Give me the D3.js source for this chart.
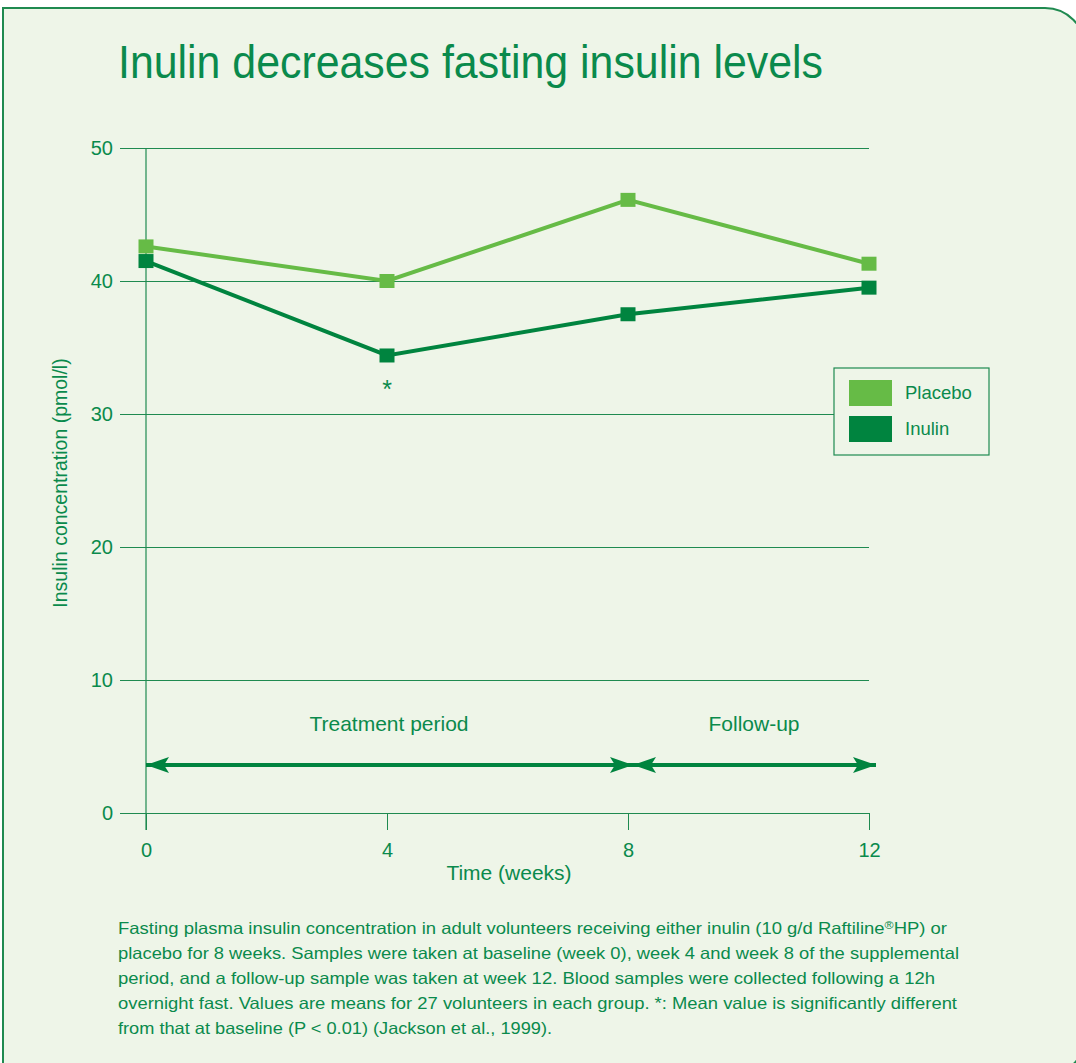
<!DOCTYPE html>
<html><head><meta charset="utf-8">
<script src="https://cdn.jsdelivr.net/npm/d3@7"></script>
<style>body{margin:0;background:#fff;} svg{display:block;}</style>
</head><body>
<script>
const weeks = [0, 4, 8, 12];
const placebo = [42.6, 40.0, 46.1, 41.3];
const inulin = [41.5, 34.4, 37.5, 39.5];
const yTicks = [0, 10, 20, 30, 40, 50];
const xTicks = [0, 4, 8, 12];
const seriesNames = ["Placebo", "Inulin"];
const titleText = "Inulin decreases fasting insulin levels";
const yLabel = "Insulin concentration (pmol/l)";
const xLabel = "Time (weeks)";
const periods = [{label: "Treatment period", from: 0, to: 8}, {label: "Follow-up", from: 8, to: 12}];
const captionLines = [
  "Fasting plasma insulin concentration in adult volunteers receiving either inulin (10 g/d Raftiline®HP) or",
  "placebo for 8 weeks. Samples were taken at baseline (week 0), week 4 and week 8 of the supplemental",
  "period, and a follow-up sample was taken at week 12. Blood samples were collected following a 12h",
  "overnight fast. Values are means for 27 volunteers in each group. *: Mean value is significantly different",
  "from that at baseline (P < 0.01) (Jackson et al., 1999)."
];
const captionWidths = [829, 841, 817, 839, 434];

const W = 1076, H = 1063;
const txt = "#0A8A4C", grid = "#1F8A50", cPl = "#66BB46", cIn = "#00843F";
const font = "'Liberation Sans',Arial,sans-serif";
const svg = d3.select("body").append("svg").attr("width", W).attr("height", H);

// panel
const px = 3, py = 8, pr = 40, pw = 1082, ph = 1068;
svg.append("path")
  .attr("d", `M${px},${py+ph} L${px},${py} L${px+pw-pr},${py} A${pr},${pr} 0 0 1 ${px+pw},${py+pr} L${px+pw},${py+ph-pr} A${pr},${pr} 0 0 1 ${px+pw-pr},${py+ph} Z`)
  .attr("fill", "#EEF5E8").attr("stroke", grid).attr("stroke-width", 2);

svg.append("text").attr("x", 118).attr("y", 78).text(titleText)
  .attr("font-family", "'Liberation Sans Narrow','Arial Narrow',sans-serif").attr("font-size", 46)
  .attr("fill", txt).attr("textLength", 705).attr("lengthAdjust", "spacingAndGlyphs");

const x = d3.scaleLinear().domain([0, 12]).range([146, 869]);
const y = d3.scaleLinear().domain([0, 50]).range([813, 148]);

const g = svg.append("g");
const yAxis = d3.axisLeft(y).tickValues(yTicks).tickSize(-(869 - 120)).tickPadding(7).tickFormat(d3.format("d"));
const ya = g.append("g").attr("transform", "translate(120,0)").call(yAxis);
ya.select(".domain").remove();
ya.selectAll(".tick line").attr("stroke", grid).attr("stroke-width", 1).attr("x1", 0).attr("x2", 869 - 120);
ya.selectAll(".tick text").attr("fill", txt).attr("font-size", 20).attr("font-family", font).attr("x", -7);

const xAxis = d3.axisBottom(x).tickValues(xTicks).tickSize(17).tickPadding(13).tickFormat(d3.format("d"));
const xa = g.append("g").attr("transform", "translate(0,813)").call(xAxis);
xa.select(".domain").remove();
xa.selectAll(".tick line").attr("stroke", grid);
xa.selectAll(".tick text").attr("fill", txt).attr("font-size", 20).attr("font-family", font);

g.append("line").attr("x1", x(0)).attr("x2", x(0)).attr("y1", y(50)).attr("y2", 830).attr("stroke", grid).attr("stroke-width", 1.2);

svg.append("text").attr("transform", `translate(67,${483}) rotate(-90)`).attr("text-anchor", "middle")
  .attr("fill", txt).attr("font-size", 19.5).attr("font-family", font).text(yLabel);
svg.append("text").attr("x", 509).attr("y", 880).attr("text-anchor", "middle")
  .attr("fill", txt).attr("font-size", 21).attr("font-family", font).text(xLabel);

// period arrows
const defs = svg.append("defs");
function marker(id, dir) {
  const m = defs.append("marker").attr("id", id).attr("viewBox", "0 0 23 16").attr("refX", dir > 0 ? 23 : 0).attr("refY", 8)
    .attr("markerWidth", 23).attr("markerHeight", 16).attr("markerUnits", "userSpaceOnUse").attr("orient", "0");
  m.append("path").attr("d", dir > 0 ? "M0,0 L23,8 L0,16 L5,8 Z" : "M23,0 L0,8 L23,16 L18,8 Z").attr("fill", cIn);
}
marker("ar", 1); marker("al", -1);
const arrowY = 765;
periods.forEach((p, i) => {
  const x1 = x(p.from) + (p.from === 0 ? 0 : 5), x2 = x(p.to) + (p.to === 8 ? 5 : 7);
  svg.append("line").attr("x1", x1).attr("x2", x2).attr("y1", arrowY).attr("y2", arrowY)
    .attr("stroke", cIn).attr("stroke-width", 4).attr("marker-start", "url(#al)").attr("marker-end", "url(#ar)");
  svg.append("text").attr("x", i === 0 ? 389 : 754).attr("y", 731).attr("text-anchor", "middle")
    .attr("fill", txt).attr("font-size", 21).attr("font-family", font).text(p.label);
});

const line = d3.line().x((d, i) => x(weeks[i])).y(d => y(d));
[[placebo, cPl], [inulin, cIn]].forEach(([data, col]) => {
  svg.append("path").attr("d", line(data)).attr("fill", "none").attr("stroke", col).attr("stroke-width", 4);
  svg.selectAll(null).data(data).enter().append("rect")
    .attr("x", (d, i) => x(weeks[i]) - 7.5).attr("y", d => y(d) - 7).attr("width", 15).attr("height", 14).attr("fill", col);
});
svg.append("text").attr("x", x(4)).attr("y", 398).attr("text-anchor", "middle").attr("fill", txt)
  .attr("font-size", 25).attr("font-family", font).text("*");

const lg = svg.append("g");
lg.append("rect").attr("x", 834).attr("y", 368).attr("width", 155).attr("height", 87)
  .attr("fill", "#EEF5E8").attr("stroke", grid).attr("stroke-width", 1.2);
seriesNames.forEach((n, i) => {
  lg.append("rect").attr("x", 849).attr("y", 380 + i * 36).attr("width", 43).attr("height", 26).attr("fill", i === 0 ? cPl : cIn);
  lg.append("text").attr("x", 905).attr("y", 399 + i * 36).attr("fill", txt).attr("font-size", 18.5)
    .attr("font-family", font).text(n);
});

captionLines.forEach((l, i) => {
  const t = svg.append("text").attr("x", 118).attr("y", 934 + i * 25).attr("fill", txt).attr("font-size", 16.5)
    .attr("font-family", "'Liberation Sans Narrow','Arial Narrow',sans-serif")
    .attr("textLength", captionWidths[i]).attr("lengthAdjust", "spacingAndGlyphs");
  if (l.includes("®")) {
    const parts = l.split("®");
    t.append("tspan").text(parts[0]);
    t.append("tspan").attr("font-size", 11).attr("dy", -5).text("®");
    t.append("tspan").attr("dy", 5).text(parts[1]);
  } else t.text(l);
});
</script>
</body></html>
